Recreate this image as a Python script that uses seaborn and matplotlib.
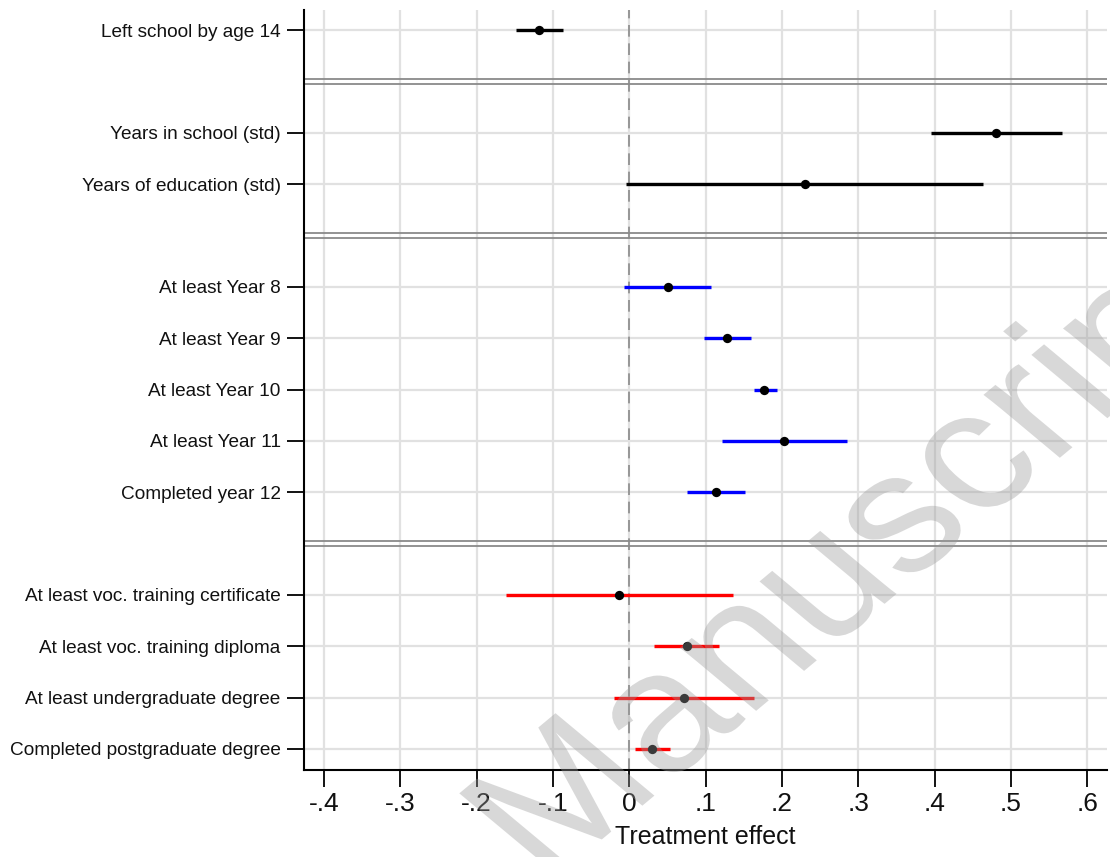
import numpy as np
import pandas as pd
import matplotlib
matplotlib.use("Agg")
import matplotlib.pyplot as plt
import seaborn as sns
from matplotlib.textpath import TextPath
from matplotlib.patches import PathPatch
from matplotlib.font_manager import FontProperties
from matplotlib.transforms import Affine2D

# ---- data ----
labels_g1 = ["Left school by age 14"]
labels_g2 = ["Years in school (std)", "Years of education (std)"]
labels_g3 = ["At least Year 8", "At least Year 9", "At least Year 10",
             "At least Year 11", "Completed year 12"]
labels_g4 = ["At least voc. training certificate", "At least voc. training diploma",
             "At least undergraduate degree", "Completed postgraduate degree"]

est_g1 = [-0.118]
lo_g1 = [-0.149]
hi_g1 = [-0.087]

est_g2 = [0.481, 0.230]
lo_g2 = [0.396, -0.004]
hi_g2 = [0.567, 0.464]

est_g3 = [0.051, 0.128, 0.177, 0.203, 0.114]
lo_g3 = [-0.007, 0.098, 0.163, 0.122, 0.076]
hi_g3 = [0.107, 0.159, 0.193, 0.285, 0.152]

est_g4 = [-0.013, 0.076, 0.072, 0.030]
lo_g4 = [-0.161, 0.033, -0.020, 0.007]
hi_g4 = [0.136, 0.118, 0.164, 0.054]

xtick_vals = [-0.4, -0.3, -0.2, -0.1, 0, 0.1, 0.2, 0.3, 0.4, 0.5, 0.6]
xtick_labels = ["-.4", "-.3", "-.2", "-.1", "0", ".1", ".2", ".3", ".4", ".5", ".6"]
group_colors = ["black", "black", "#0000ff", "#ff0000"]
watermark = "Manuscript"

# ---- build table with row positions (one blank row between groups) ----
groups = [(labels_g1, est_g1, lo_g1, hi_g1),
          (labels_g2, est_g2, lo_g2, hi_g2),
          (labels_g3, est_g3, lo_g3, hi_g3),
          (labels_g4, est_g4, lo_g4, hi_g4)]
rows = []
sep_pos = []
pos = 0
for gi, (labs, est, lo, hi) in enumerate(groups):
    if gi > 0:
        sep_pos.append(pos)
        pos += 1
    for l, e, a, b in zip(labs, est, lo, hi):
        rows.append(dict(label=l, est=e, lo=a, hi=b, pos=pos, group=gi))
        pos += 1
df = pd.DataFrame(rows)

sns.set_theme(style="white")
plt.rcParams["font.family"] = ["Liberation Sans", "DejaVu Sans"]

fig = plt.figure(figsize=(11.10, 8.57), dpi=100)
ax = fig.add_axes([0.274, 0.1015, 0.7233, 0.8868])

# grid
for xv in xtick_vals:
    ax.axvline(xv, color="#e1e1e1", lw=1.6, zorder=0)
for p in df["pos"]:
    ax.axhline(p, color="#e1e1e1", lw=1.6, zorder=0)

# separators (double lines)
for s in sep_pos:
    for d in (-0.05, 0.05):
        ax.axhline(s + d, color="#8a8a8a", lw=1.3, zorder=1)

# zero reference line
ax.axvline(0, color="#8a8a8a", lw=1.2, ls=(0, (7, 4)), zorder=1)

# confidence intervals
for gi, c in enumerate(group_colors):
    sub = df[df["group"] == gi]
    ax.hlines(sub["pos"], sub["lo"], sub["hi"], color=c, lw=2.4, zorder=2)

# point estimates
sns.scatterplot(data=df, x="est", y="pos", color="black", s=45,
                edgecolor="black", linewidth=0, zorder=3, ax=ax, legend=False)

ax.set_xlim(-0.426, 0.626)
ax.set_ylim(14.41, -0.39)
ax.set_yticks(df["pos"])
ax.set_yticklabels(df["label"], fontsize=13.7, color="#111111")
ax.set_xticks(xtick_vals)
ax.set_xticklabels(xtick_labels, fontsize=19, color="#111111")
ax.set_xlabel("Treatment effect", fontsize=18, color="#111111", labelpad=6)
ax.set_ylabel("")
ax.tick_params(axis="x", direction="out", length=12, width=1.3, color="black", pad=4, bottom=True)
ax.tick_params(axis="y", direction="out", length=12, width=1.3, color="black", pad=5, left=True)
for side in ("top", "right"):
    ax.spines[side].set_visible(False)
for side in ("left", "bottom"):
    ax.spines[side].set_color("black")
    ax.spines[side].set_linewidth(1.5)

# watermark (rotated 45 deg, then stretched horizontally like the reference)
S = 122
tp = TextPath((0, 0), watermark, size=S, prop=FontProperties(family="Liberation Sans"))
ext = tp.get_extents()
w = ext.x0 + ext.width / 2
tr = (Affine2D().translate(-w, -0.26 * S).scale(100 / 72)
      .rotate_deg(45).scale(1.2, 1.0).translate(866, 857 - 557))
patch = PathPatch(tp, transform=tr, facecolor="#9a9a9a", edgecolor="none",
                  alpha=0.38, zorder=10)
fig.add_artist(patch)

fig.savefig("out.png", dpi=100)
